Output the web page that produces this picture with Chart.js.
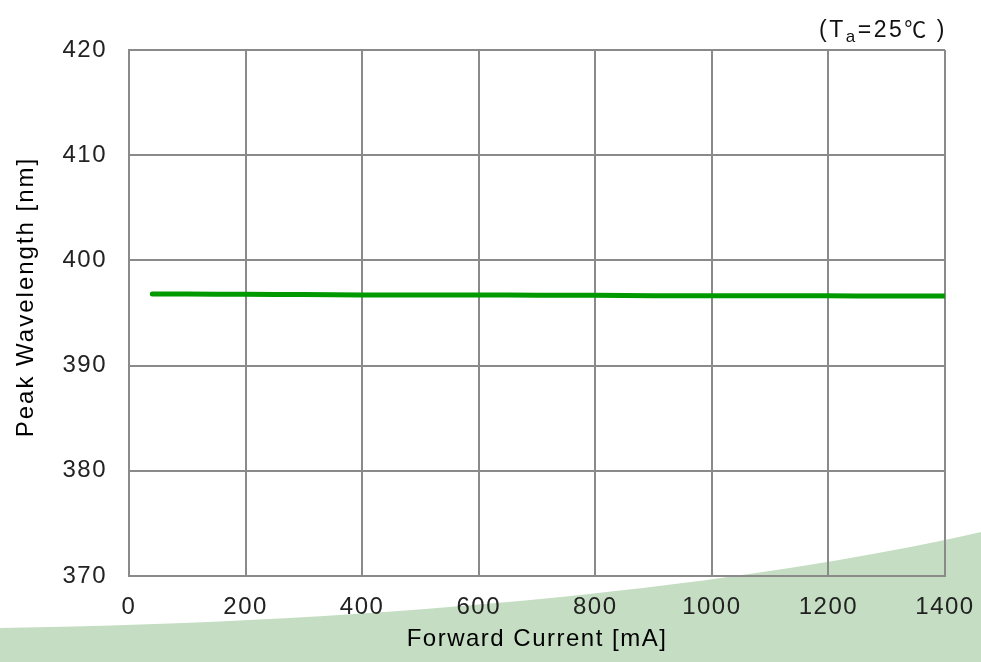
<!DOCTYPE html>
<html>
<head>
<meta charset="utf-8">
<script src="https://cdn.jsdelivr.net/npm/chart.js@4.4.1/dist/chart.umd.min.js"></script>
<style>
  html, body { margin: 0; padding: 0; background: #fff; }
  #wrap { position: relative; width: 981px; height: 662px; }
  #cond {
    position: absolute; right: 34px; top: 11px;
    font-family: "Liberation Sans", sans-serif;
    font-size: 23px; color: #111; letter-spacing: 2.5px;
  }
  #cond sub { font-size: 17px; vertical-align: -5px; }
  #cond .deg { font-family: "Noto Sans CJK KR", sans-serif; font-size: 22px; margin-right: 8px; }
</style>
</head>
<body>
<div id="wrap">
  <canvas id="chart" width="981" height="662"></canvas>
  <div id="cond">(T<sub>a</sub>=25<span class="deg">℃</span>)</div>
</div>
<script>
// Données (Ta = 25°C)
const currentMA = [40, 100, 200, 300, 400, 500, 600, 700, 800, 900, 1000, 1100, 1200, 1300, 1400];
const peakNm = [396.8, 396.8, 396.78, 396.75, 396.72, 396.72, 396.72, 396.69, 396.68, 396.64, 396.64, 396.63, 396.63, 396.62, 396.62];

// Axes
const xTicks = [0, 200, 400, 600, 800, 1000, 1200, 1400];
const yTicks = [370, 380, 390, 400, 410, 420];
const yTitle = 'Peak Wavelength [nm]';

const gridColor = '#8a8a8a';
const fontFamily = '"Liberation Sans", Arial, sans-serif';

// Espacement des lettres (le canvas est réinitialisé au redimensionnement)
const spacing = {
    id: 'spacing',
    beforeUpdate(chart) { chart.ctx.letterSpacing = '1.5px'; },
    beforeDraw(chart) { chart.ctx.letterSpacing = '1.5px'; }
};

// Décor vert en fond (bas droite)
const swoosh = {
    id: 'swoosh',
    beforeDraw(chart) {
        const ctx = chart.ctx;
        ctx.save();
        ctx.fillStyle = '#c5dec3';
        ctx.beginPath();
        ctx.moveTo(0, 628);
        ctx.bezierCurveTo(400, 622, 750, 585, 981, 532);
        ctx.lineTo(981, 662);
        ctx.lineTo(0, 662);
        ctx.closePath();
        ctx.fill();
        ctx.restore();
    }
};

// Titre de l'axe Y, un peu au-dessus du centre comme sur l'original
const yAxisTitle = {
    id: 'yAxisTitle',
    afterDraw(chart) {
        const ctx = chart.ctx;
        const area = chart.chartArea;
        ctx.save();
        ctx.letterSpacing = '2px';
        ctx.font = '24px ' + fontFamily;
        ctx.fillStyle = '#000';
        ctx.textAlign = 'center';
        ctx.textBaseline = 'middle';
        ctx.translate(26, (area.top + area.bottom) / 2 - 16);
        ctx.rotate(-Math.PI / 2);
        ctx.fillText(yTitle, 0, 0);
        ctx.restore();
    }
};

new Chart(document.getElementById('chart').getContext('2d'), {
    type: 'line',
    data: {
        datasets: [{
            label: 'Peak Wavelength',
            data: currentMA.map((x, i) => ({ x: x, y: peakNm[i] })),
            borderColor: '#009900',
            borderWidth: 5,
            borderCapStyle: 'round',
            pointRadius: 0,
            tension: 0.3,
            fill: false
        }]
    },
    options: {
        responsive: false,
        animation: false,
        layout: { padding: { top: 50, right: 36, left: 0, bottom: 0 } },
        plugins: {
            legend: { display: false },
            tooltip: { enabled: false }
        },
        scales: {
            x: {
                type: 'linear',
                min: 0,
                max: 1400,
                afterBuildTicks: s => { s.ticks = xTicks.map(v => ({ value: v })); },
                afterFit: s => {
                    s.height = 86;
                    s.paddingLeft = 0;
                    s.paddingRight = 0;
                },
                grid: { color: gridColor, lineWidth: 2, drawTicks: false },
                border: { color: gridColor, width: 2 },
                ticks: {
                    padding: 17,
                    maxRotation: 0,
                    color: '#222',
                    font: { family: fontFamily, size: 24 },
                    callback: v => String(v)
                },
                title: {
                    display: true,
                    text: 'Forward Current [mA]',
                    color: '#000',
                    padding: { top: 0, bottom: 8 },
                    font: { family: fontFamily, size: 24 }
                }
            },
            y: {
                type: 'linear',
                min: 370,
                max: 420,
                afterBuildTicks: s => { s.ticks = yTicks.map(v => ({ value: v })); },
                afterFit: s => { s.width = 129; },
                grid: { color: gridColor, lineWidth: 2, drawTicks: false },
                border: { color: gridColor, width: 2 },
                ticks: {
                    padding: 22,
                    color: '#222',
                    font: { family: fontFamily, size: 24 },
                    callback: v => String(v)
                },
                title: { display: false, text: yTitle }
            }
        }
    },
    plugins: [spacing, swoosh, yAxisTitle]
});
</script>
</body>
</html>
